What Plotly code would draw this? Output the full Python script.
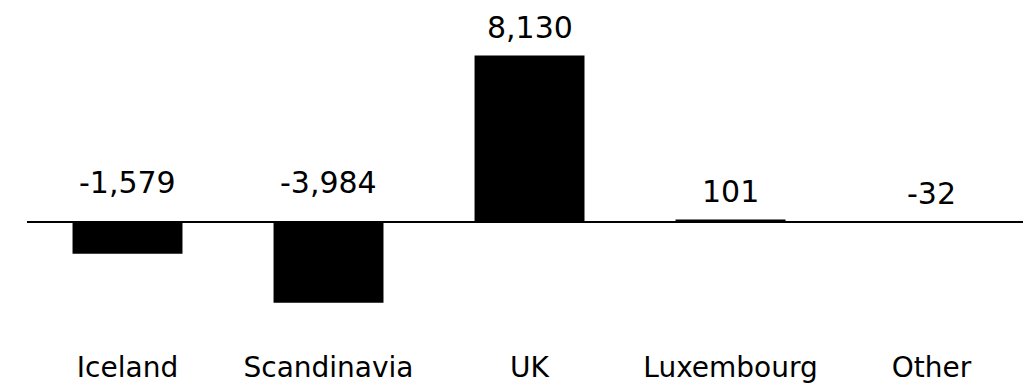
import plotly.graph_objects as go

# Net change by region
regions = ["Iceland", "Scandinavia", "UK", "Luxembourg", "Other"]
net_change = [-1579, -3984, 8130, 101, -32]

FONT = "DejaVu Sans"
VALUE_SIZE = 30
CAT_SIZE = 28

fig = go.Figure(
    go.Bar(
        x=regions,
        y=net_change,
        marker=dict(color="black", line=dict(width=0)),
        width=0.547,
        hoverinfo="skip",
    )
)

# Value labels above each bar (or above the zero line for negative values)
for name, v in zip(regions, net_change):
    shift = 39 if v < -1000 else 28
    fig.add_annotation(
        x=name,
        y=max(v, 0),
        text=f"{v:,}",
        showarrow=False,
        yanchor="middle",
        yshift=shift,
        font=dict(family=FONT, size=VALUE_SIZE, color="black"),
    )

px_per_unit = 1 / 49.0
plot_h = 348
zero_px = 221.5
y_top = zero_px / px_per_unit
y_bot = -(plot_h - zero_px) / px_per_unit

fig.update_layout(
    width=1023,
    height=386,
    margin=dict(l=27, r=0, t=0, b=386 - plot_h),
    paper_bgcolor="white",
    plot_bgcolor="white",
    showlegend=False,
    font=dict(family=FONT, size=CAT_SIZE, color="black"),
    xaxis=dict(
        range=[-0.5, 4.455],
        showgrid=False,
        showline=False,
        ticks="",
        tickfont=dict(family=FONT, size=CAT_SIZE, color="black"),
    ),
    yaxis=dict(
        range=[y_bot, y_top],
        showgrid=False,
        showticklabels=False,
        zeroline=True,
        zerolinecolor="black",
        zerolinewidth=2,
        ticks="",
    ),
)

fig.write_html("out.html")
